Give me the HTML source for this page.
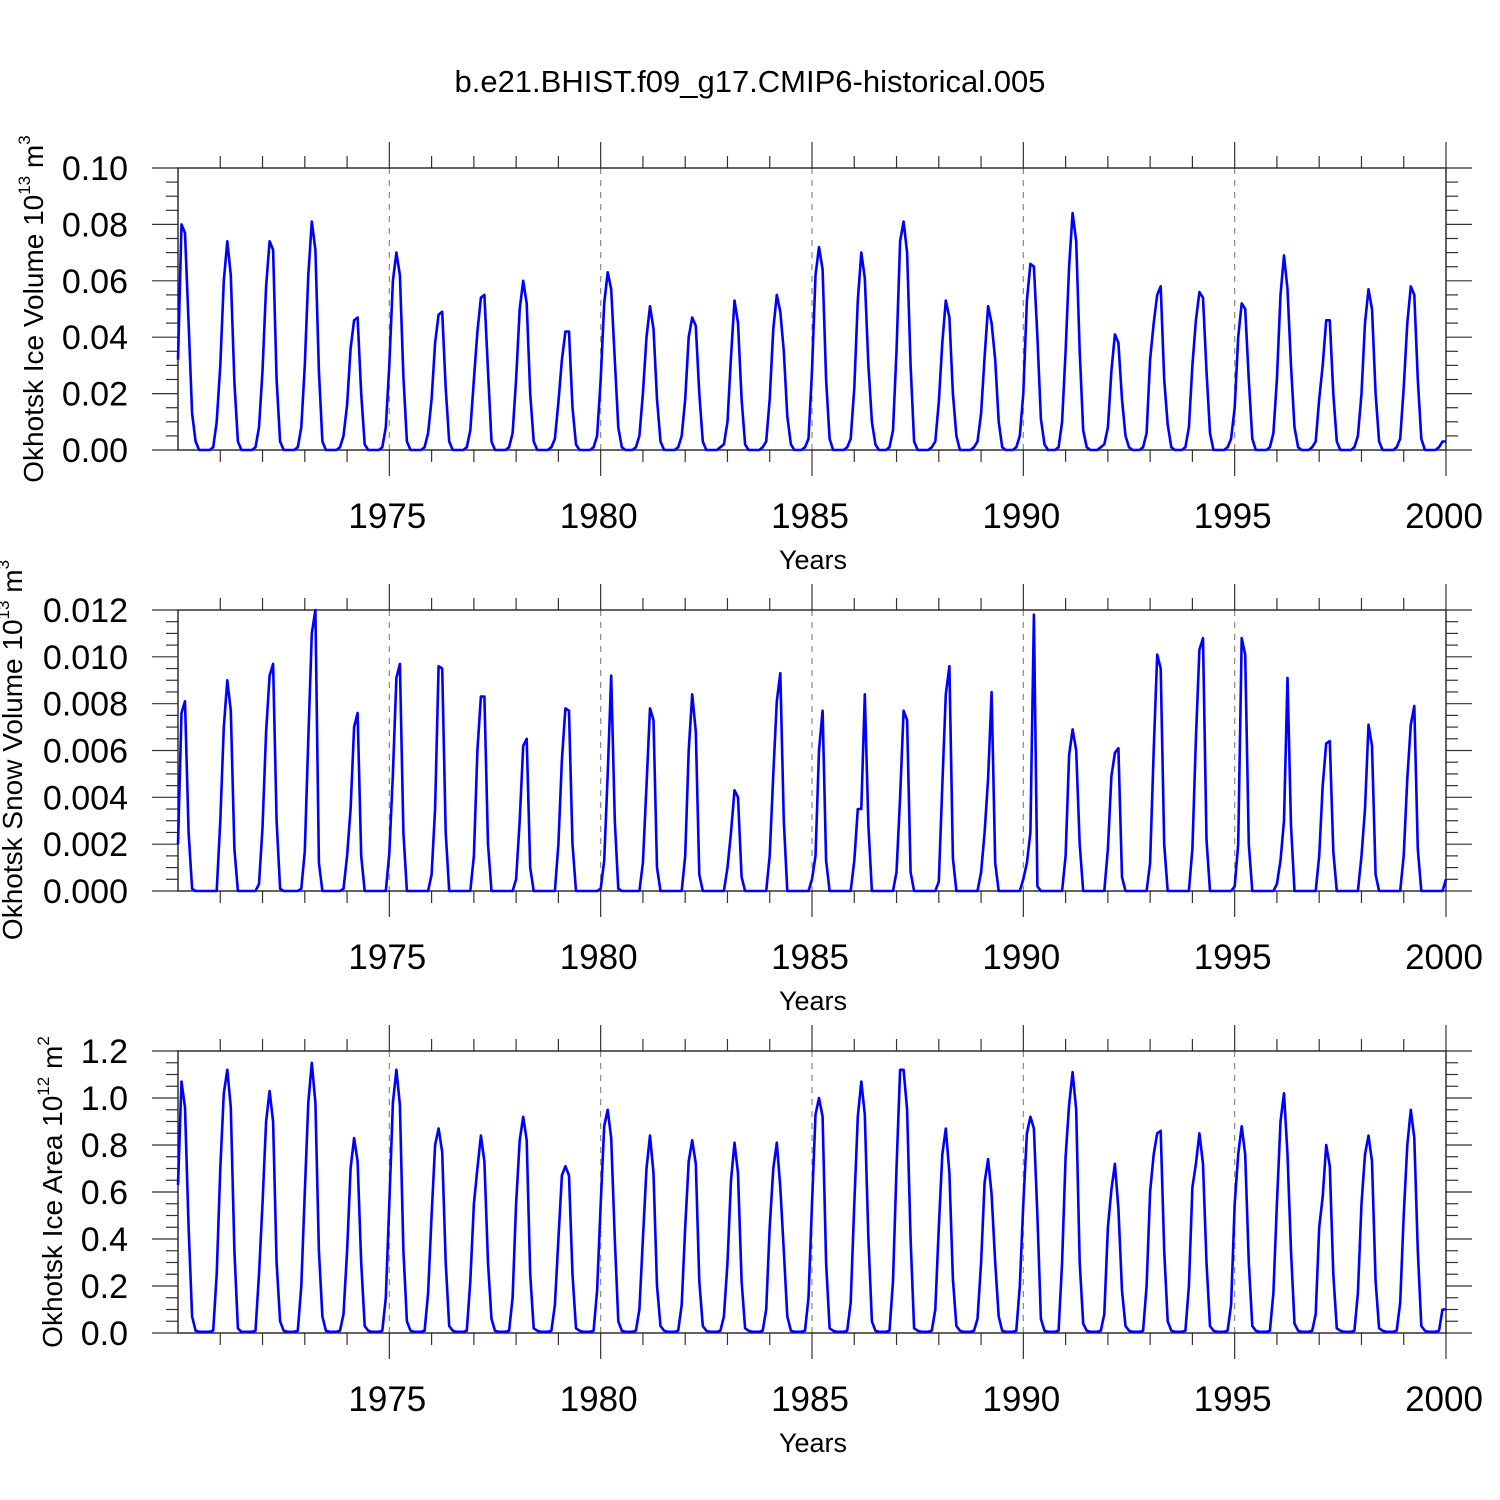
<!DOCTYPE html>
<html><head><meta charset="utf-8"><style>
html,body{margin:0;padding:0;background:#fff;}
svg{display:block;font-family:"Liberation Sans",sans-serif;}
</style></head><body>
<svg id="chart" width="1500" height="1500" viewBox="0 0 1500 1500">
<text x="750" y="92" font-size="31" text-anchor="middle">b.e21.BHIST.f09_g17.CMIP6-historical.005</text>
</svg>
<script>
const years = [1970,1971,1972,1973,1974,1975,1976,1977,1978,1979,1980,1981,1982,1983,1984,1985,1986,1987,1988,1989,1990,1991,1992,1993,1994,1995,1996,1997,1998,1999];
const xTickLabels = ["1975","1980","1985","1990","1995","2000"];
const iceVolume = [
[.032,.080,.077,.045,.013,.003,0,0,0,0,.001,.010],
[.030,.060,.074,.062,.024,.003,0,0,0,0,.001,.008],
[.028,.058,.074,.071,.025,.003,0,0,0,0,.001,.008],
[.030,.062,.081,.071,.028,.003,0,0,0,0,.001,.005],
[.016,.036,.046,.047,.020,.002,0,0,0,0,.001,.008],
[.030,.060,.070,.062,.026,.003,0,0,0,0,.001,.006],
[.018,.038,.048,.049,.022,.003,0,0,0,0,.001,.007],
[.025,.042,.054,.055,.028,.003,0,0,0,0,.001,.006],
[.025,.050,.060,.052,.020,.003,0,0,0,0,.001,.004],
[.017,.032,.042,.042,.015,.002,0,0,0,0,.001,.005],
[.025,.052,.063,.057,.032,.008,.001,0,0,0,.001,.005],
[.020,.040,.051,.043,.018,.003,0,0,0,0,.001,.005],
[.018,.040,.047,.044,.020,.003,0,0,0,0,.001,.002],
[.010,.033,.053,.045,.018,.002,0,0,0,0,.001,.003],
[.018,.043,.055,.049,.035,.012,.002,0,0,0,.001,.004],
[.028,.062,.072,.064,.025,.004,0,0,0,0,.001,.004],
[.022,.053,.070,.061,.030,.010,.002,0,0,0,.001,.007],
[.035,.074,.081,.070,.030,.003,0,0,0,0,.001,.003],
[.017,.038,.053,.047,.020,.005,0,0,0,0,.001,.003],
[.013,.033,.051,.045,.032,.010,.001,0,0,0,.001,.005],
[.020,.053,.066,.065,.040,.011,.002,0,0,0,.001,.010],
[.035,.065,.084,.074,.035,.007,.001,0,0,0,.001,.002],
[.008,.028,.041,.038,.018,.005,.001,0,0,0,.001,.006],
[.032,.045,.055,.058,.025,.009,.001,0,0,0,.001,.008],
[.030,.046,.056,.054,.028,.006,0,0,0,0,.001,.004],
[.015,.040,.052,.050,.025,.004,0,0,0,0,.001,.006],
[.025,.055,.069,.057,.030,.008,.001,0,0,0,.001,.003],
[.018,.030,.046,.046,.020,.003,0,0,0,0,.001,.005],
[.020,.045,.057,.050,.020,.003,0,0,0,0,.001,.004],
[.022,.045,.058,.055,.025,.004,0,0,0,0,.001,.003],
[.003]];
const snowVolume = [
[.0020,.0076,.0081,.0025,.0001,0,0,0,0,0,0,0],
[.0030,.0070,.0090,.0077,.0018,0,0,0,0,0,0,.0003],
[.0027,.0068,.0092,.0097,.0030,.0001,0,0,0,0,0,.0001],
[.0017,.0065,.0110,.0120,.0012,0,0,0,0,0,0,.0001],
[.0015,.0035,.0070,.0076,.0015,0,0,0,0,0,0,0],
[.0016,.0050,.0091,.0097,.0025,0,0,0,0,0,0,0],
[.0007,.0035,.0096,.0095,.0025,0,0,0,0,0,0,0],
[.0015,.0060,.0083,.0083,.0020,0,0,0,0,0,0,0],
[.0005,.0030,.0062,.0065,.0010,0,0,0,0,0,0,0],
[.0020,.0056,.0078,.0077,.0020,0,0,0,0,0,0,0],
[.0001,.0013,.0050,.0092,.0030,.0001,0,0,0,0,0,0],
[.0012,.0045,.0078,.0073,.0010,0,0,0,0,0,0,0],
[.0015,.0060,.0084,.0068,.0007,0,0,0,0,0,0,0],
[.0010,.0025,.0043,.0040,.0006,0,0,0,0,0,0,0],
[.0015,.0050,.0081,.0093,.0030,0,0,0,0,0,0,0],
[.0005,.0015,.0060,.0077,.0013,0,0,0,0,0,0,0],
[.0013,.0035,.0035,.0084,.0028,0,0,0,0,0,0,0],
[.0008,.0040,.0077,.0073,.0008,0,0,0,0,0,0,0],
[.0004,.0045,.0084,.0096,.0014,0,0,0,0,0,0,0],
[.0008,.0025,.0048,.0085,.0012,0,0,0,0,0,0,0],
[.0005,.0012,.0025,.0118,.0002,0,0,0,0,0,0,0],
[.0015,.0058,.0069,.0060,.0020,0,0,0,0,0,0,0],
[.0018,.0049,.0059,.0061,.0006,0,0,0,0,0,0,0],
[.0012,.0060,.0101,.0095,.0020,0,0,0,0,0,0,0],
[.0018,.0065,.0103,.0108,.0022,0,0,0,0,0,0,0],
[.0002,.0020,.0108,.0101,.0020,0,0,0,0,0,0,0],
[.0003,.0013,.0030,.0091,.0028,0,0,0,0,0,0,0],
[.0015,.0045,.0063,.0064,.0017,0,0,0,0,0,0,0],
[.0015,.0035,.0071,.0062,.0007,0,0,0,0,0,0,0],
[.0015,.0048,.0071,.0079,.0018,0,0,0,0,0,0,0],
[.0005]];
const iceArea = [
[.63,1.07,.96,.45,.07,.01,.005,.005,.005,.005,.01,.25],
[.70,1.02,1.12,.96,.35,.02,.005,.005,.005,.005,.01,.25],
[.55,.90,1.03,.90,.30,.05,.01,.005,.005,.005,.01,.20],
[.60,.98,1.15,.98,.35,.07,.01,.005,.005,.005,.01,.08],
[.35,.70,.83,.73,.30,.03,.01,.005,.005,.005,.01,.15],
[.55,.98,1.12,.97,.35,.05,.01,.005,.005,.005,.01,.17],
[.50,.80,.87,.77,.30,.03,.01,.005,.005,.005,.01,.22],
[.55,.70,.84,.73,.30,.06,.01,.005,.005,.005,.01,.15],
[.55,.82,.92,.82,.25,.02,.01,.005,.005,.005,.01,.12],
[.40,.67,.71,.67,.25,.02,.01,.005,.005,.005,.01,.18],
[.55,.88,.95,.83,.40,.05,.01,.005,.005,.005,.01,.10],
[.40,.70,.84,.68,.20,.03,.01,.005,.005,.005,.01,.12],
[.45,.73,.82,.72,.22,.03,.01,.005,.005,.005,.01,.07],
[.30,.65,.81,.68,.22,.02,.01,.005,.005,.005,.01,.10],
[.45,.70,.81,.62,.35,.07,.01,.005,.005,.005,.01,.15],
[.55,.93,1.00,.92,.30,.02,.01,.005,.005,.005,.01,.13],
[.55,.92,1.07,.93,.40,.05,.01,.005,.005,.005,.01,.22],
[.70,1.12,1.12,.95,.40,.02,.01,.005,.005,.005,.01,.10],
[.45,.76,.87,.68,.23,.03,.01,.005,.005,.005,.01,.06],
[.30,.64,.74,.59,.30,.07,.01,.005,.005,.005,.01,.20],
[.55,.85,.92,.87,.50,.06,.01,.005,.005,.005,.01,.30],
[.75,.97,1.11,.95,.30,.04,.01,.005,.005,.005,.01,.08],
[.45,.61,.72,.53,.18,.03,.01,.005,.005,.005,.01,.20],
[.60,.76,.85,.86,.35,.05,.01,.005,.005,.005,.01,.20],
[.62,.72,.85,.72,.30,.03,.01,.005,.005,.005,.01,.12],
[.55,.76,.88,.76,.30,.03,.01,.005,.005,.005,.01,.17],
[.55,.90,1.02,.76,.35,.04,.01,.005,.005,.005,.01,.08],
[.45,.58,.80,.71,.25,.02,.01,.005,.005,.005,.01,.17],
[.55,.76,.84,.73,.22,.02,.01,.005,.005,.005,.01,.13],
[.50,.80,.95,.83,.35,.03,.01,.005,.005,.005,.01,.10],
[.10]];

const NS = "http://www.w3.org/2000/svg";
const svg = document.getElementById("chart");
const X0 = 178, X1 = 1446, T0 = 1970, T1 = 2000;
function xs(t){ return X0 + (t - T0) / (T1 - T0) * (X1 - X0); }
function mk(tag, attrs, parent){
  const e = document.createElementNS(NS, tag);
  for (const k in attrs) e.setAttribute(k, attrs[k]);
  (parent || svg).appendChild(e);
  return e;
}
const panels = [
 {top:168, bot:450, max:0.10, major:0.02, minor:0.005, dec:2, data:iceVolume, name:"ice-volume",
  lx:33, cy:309, lbl:["Okhotsk Ice Volume 10","13"," m","3"]},
 {top:610, bot:891, max:0.012, major:0.002, minor:0.0005, dec:3, data:snowVolume, name:"snow-volume",
  lx:12, cy:750, lbl:["Okhotsk Snow Volume 10","13"," m","3"]},
 {top:1051, bot:1333, max:1.2, major:0.2, minor:0.05, dec:1, data:iceArea, name:"ice-area",
  lx:52, cy:1192, lbl:["Okhotsk Ice Area 10","12"," m","2"]}
];
panels.forEach(p => {
  const g = mk("g", {});
  
  
  const ys = v => p.bot - v / p.max * (p.bot - p.top);
  for (let yr = 1975; yr < 2000; yr += 5) {
    const l = mk("line", {x1:xs(yr), x2:xs(yr), y1:p.top, y2:p.bot, stroke:"#888", "stroke-width":1.2, "stroke-dasharray":"6,6"}, g);
    
    
  }
  for (let yr = 1971; yr <= 2000; yr++) {
    const len = (yr % 5 === 0) ? 26 : 12;
    mk("line", {x1:xs(yr), x2:xs(yr), y1:p.top - len, y2:p.top, stroke:"#333", "stroke-width":1.2}, g);
    mk("line", {x1:xs(yr), x2:xs(yr), y1:p.bot, y2:p.bot + len, stroke:"#333", "stroke-width":1.2}, g);
  }
  const nMinor = Math.round(p.max / p.minor);
  const per = Math.round(p.major / p.minor);
  for (let i = 0; i <= nMinor; i++) {
    const y = ys(i * p.minor);
    const len = (i % per === 0) ? 26 : 12;
    mk("line", {x1:X0 - len, x2:X0, y1:y, y2:y, stroke:"#333", "stroke-width":1.2}, g);
    mk("line", {x1:X1, x2:X1 + len, y1:y, y2:y, stroke:"#333", "stroke-width":1.2}, g);
    if (i % per === 0) {
      const t = mk("text", {x:128, y:y + 12, "font-size":34, "text-anchor":"end"}, g);
      t.textContent = (i * p.minor).toFixed(p.dec);
      
      
    }
  }
  const fr = mk("rect", {x:X0, y:p.top, width:X1 - X0, height:p.bot - p.top, fill:"none", stroke:"#222", "stroke-width":1.4}, g);
  
  
  xTickLabels.forEach(s => {
    const t = mk("text", {x:xs(+s) - 2, y:p.bot + 78, "font-size":35, "text-anchor":"middle"}, g);
    t.textContent = s;
    
    
  });
  const xt = mk("text", {x:813, y:p.bot + 119, "font-size":27, "text-anchor":"middle"}, g);
  xt.textContent = "Years";
  
  
  const yt = mk("text", {x:0, y:0, "font-size":28, "text-anchor":"middle", transform:`translate(${p.lx + 10},${p.cy}) rotate(-90)`}, g);
  
  
  p.lbl.forEach((s, i) => {
    const ts = mk("tspan", i % 2 ? {"font-size":17, dy:-13} : {dy: i ? 13 : 0}, yt);
    ts.textContent = s;
  });
  let d = "";
  p.data.forEach((row, yi) => {
    row.forEach((v, m) => {
      const t = T0 + yi + m / 12;
      d += (d ? "L" : "M") + xs(t).toFixed(1) + "," + ys(v).toFixed(1);
    });
  });
  const path = mk("path", {d:d, fill:"none", stroke:"#0000ff", "stroke-width":2.6, "stroke-linejoin":"round"}, g);
  
  
});
</script>
</body></html>
